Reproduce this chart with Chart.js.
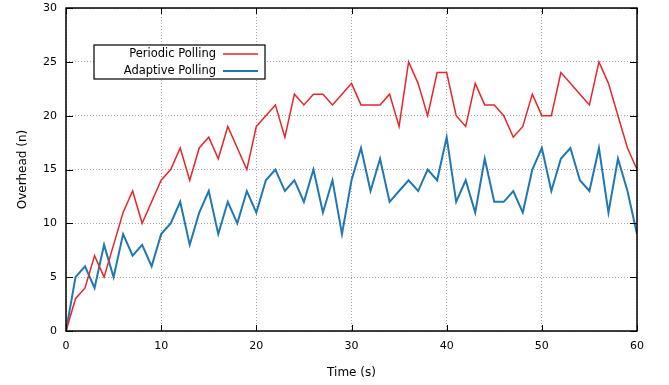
<!DOCTYPE html>
<html>
<head>
<meta charset="utf-8">
<script src="https://cdn.jsdelivr.net/npm/chart.js@4.4.1/dist/chart.umd.min.js"></script>
<style>
  html, body { margin: 0; padding: 0; background: #fff; }
</style>
</head>
<body>
<canvas id="overhead" width="669" height="385"></canvas>
<script>
const times = [0, 1, 2, 3, 4, 5, 6, 7, 8, 9, 10, 11, 12, 13, 14, 15, 16, 17, 18, 19, 20,
    21, 22, 23, 24, 25, 26, 27, 28, 29, 30, 31, 32, 33, 34, 35, 36, 37, 38, 39, 40,
    41, 42, 43, 44, 45, 46, 47, 48, 49, 50, 51, 52, 53, 54, 55, 56, 57, 58, 59, 60];
const periodic = [0, 3, 4, 7, 5, 8, 11, 13, 10, 12, 14, 15, 17, 14, 17, 18, 16, 19, 17, 15, 19,
    20, 21, 18, 22, 21, 22, 22, 21, 22, 23, 21, 21, 21, 22, 19, 25, 23, 20, 24, 24,
    20, 19, 23, 21, 21, 20, 18, 19, 22, 20, 20, 24, 23, 22, 21, 25, 23, 20, 17, 15];
const adaptive = [0, 5, 6, 4, 8, 5, 9, 7, 8, 6, 9, 10, 12, 8, 11, 13, 9, 12, 10, 13, 11,
    14, 15, 13, 14, 12, 15, 11, 14, 9, 14, 17, 13, 16, 12, 13, 14, 13, 15, 14, 18,
    12, 14, 11, 16, 12, 12, 13, 11, 15, 17, 13, 16, 17, 14, 13, 17, 11, 16, 13, 9];
const xTicks = [0, 10, 20, 30, 40, 50, 60];
const yTicks = [0, 5, 10, 15, 20, 25, 30];

const FONT = 'DejaVu Sans';

// gnuplot style: box frame, inward ticks, legend box inside the plot
const gnuplotFrame = {
    id: 'gnuplotFrame',
    afterDraw(chart) {
        const { ctx, chartArea: a, scales: { x, y } } = chart;
        ctx.save();
        ctx.strokeStyle = '#000';
        ctx.lineWidth = 1;
        ctx.beginPath();
        xTicks.forEach(v => {
            const px = Math.round(x.getPixelForValue(v)) + 0.5;
            ctx.moveTo(px, a.bottom); ctx.lineTo(px, a.bottom - 6);
            ctx.moveTo(px, a.top); ctx.lineTo(px, a.top + 6);
        });
        yTicks.forEach(v => {
            const py = Math.round(y.getPixelForValue(v)) + 0.5;
            ctx.moveTo(a.left, py); ctx.lineTo(a.left + 7, py);
            ctx.moveTo(a.right, py); ctx.lineTo(a.right - 7, py);
        });
        ctx.stroke();
        ctx.lineWidth = 1.5;
        ctx.strokeRect(a.left, a.top, a.right - a.left, a.bottom - a.top);

        // legend
        const bx = a.left + 28, by = a.top + 37, bw = 171, bh = 34;
        ctx.fillStyle = '#fff';
        ctx.fillRect(bx, by, bw, bh);
        ctx.lineWidth = 1.2;
        ctx.strokeRect(bx, by, bw, bh);
        ctx.font = '11.5px "' + FONT + '"';
        ctx.textAlign = 'right';
        ctx.textBaseline = 'middle';
        chart.data.datasets.forEach((ds, i) => {
            const ry = by + 9 + i * 17;
            ctx.fillStyle = '#000';
            ctx.fillText(ds.label, bx + 122, ry);
            ctx.strokeStyle = ds.borderColor;
            ctx.lineWidth = ds.borderWidth;
            ctx.beginPath();
            ctx.moveTo(bx + 129, ry);
            ctx.lineTo(bx + 164, ry);
            ctx.stroke();
        });
        ctx.restore();
    }
};

const overhead = document.getElementById('overhead');

new Chart(overhead, {
    type: 'line',
    data: {
        datasets: [
            {
                label: 'Periodic Polling',
                data: times.map((t, i) => ({ x: t, y: periodic[i] })),
                borderColor: '#e8262a',
                borderWidth: 1.5,
                pointRadius: 0,
                tension: 0,
                fill: false
            },
            {
                label: 'Adaptive Polling',
                data: times.map((t, i) => ({ x: t, y: adaptive[i] })),
                borderColor: '#1f78b4',
                borderWidth: 2,
                pointRadius: 0,
                tension: 0,
                fill: false
            }
        ]
    },
    options: {
        responsive: false,
        devicePixelRatio: 1,
        animation: false,
        layout: { padding: { top: 8, right: 32, left: 0, bottom: 0 } },
        scales: {
            x: {
                type: 'linear',
                min: 0,
                max: 60,
                afterBuildTicks: scale => { scale.ticks = xTicks.map(v => ({ value: v })); },
                afterFit: scale => {
                    scale.height = 54;
                    scale.paddingLeft = 0;
                    scale.paddingRight = 0;
                },
                grid: { color: '#a8a8a8', drawTicks: false, lineWidth: 1 },
                border: { display: false, dash: [1, 2] },
                ticks: {
                    padding: 9,
                    color: '#000',
                    maxRotation: 0,
                    font: { family: FONT, size: 11 }
                },
                title: {
                    display: true,
                    text: 'Time (s)',
                    color: '#000',
                    padding: { top: 5, bottom: 5 },
                    font: { family: FONT, size: 12 }
                }
            },
            y: {
                min: 0,
                max: 30,
                afterBuildTicks: scale => { scale.ticks = yTicks.map(v => ({ value: v })); },
                afterFit: scale => {
                    scale.width = 66;
                    scale.paddingTop = 0;
                    scale.paddingBottom = 0;
                },
                grid: { color: '#a8a8a8', drawTicks: false, lineWidth: 1 },
                border: { display: false, dash: [1, 2] },
                ticks: {
                    padding: 9,
                    color: '#000',
                    font: { family: FONT, size: 11 }
                },
                title: {
                    display: true,
                    text: 'Overhead (n)',
                    color: '#000',
                    padding: { top: 16, bottom: 16 },
                    font: { family: FONT, size: 12 }
                }
            }
        },
        plugins: {
            legend: { display: false },
            tooltip: { enabled: false }
        }
    },
    plugins: [gnuplotFrame]
});
</script>
</body>
</html>
